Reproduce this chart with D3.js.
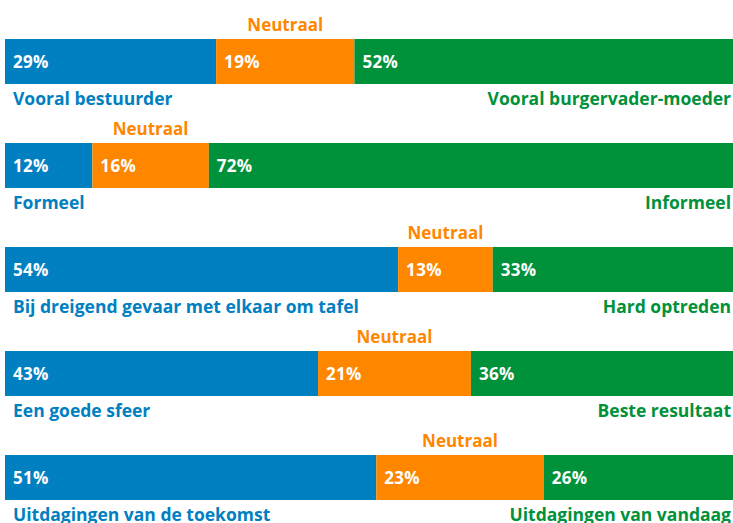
<!DOCTYPE html>
<html>
<head>
<meta charset="utf-8">
<script src="https://cdn.jsdelivr.net/npm/d3@7"></script>
<style>
  body { margin: 0; background: #fff; }
  text { font-family: "Open Sans", sans-serif; font-weight: bold; }
</style>
</head>
<body>
<div id="chart"></div>
<script>
// data per bar: left answer, neutral, right answer (percent)
const leftLabels = ["Vooral bestuurder", "Formeel", "Bij dreigend gevaar met elkaar om tafel", "Een goede sfeer", "Uitdagingen van de toekomst"];
const rightLabels = ["Vooral burgervader-moeder", "Informeel", "Hard optreden", "Beste resultaat", "Uitdagingen van vandaag"];
const leftValues = [29, 12, 54, 43, 51];
const neutralValues = [19, 16, 13, 21, 23];
const rightValues = [52, 72, 33, 36, 26];

const width = 733;
const height = 523;
const colors = ["#0080c1", "#ff8700", "#00913b"];

const svg = d3.select("#chart")
    .append("svg")
    .attr("width", width)
    .attr("height", height);

// horizontal scale: 0-100 percent over the bar width
const x = d3.scaleLinear().domain([0, 100]).range([5, 733]);

// top of each bar
const y = d3.scalePoint()
    .domain(d3.range(leftLabels.length))
    .range([39, 455]);

const barH = 45;

leftLabels.forEach((label, i) => {
    const vals = [leftValues[i], neutralValues[i], rightValues[i]];
    let start = 0;
    const top = y(i);
    const g = svg.append("g");

    vals.forEach((v, j) => {
        g.append("rect")
            .attr("x", x(start))
            .attr("y", top)
            .attr("width", x(start + v) - x(start))
            .attr("height", barH)
            .attr("fill", colors[j]);

        g.append("text")
            .attr("x", x(start) + 8)
            .attr("y", top + barH / 2 + 6)
            .attr("fill", "#fff")
            .style("font-size", "17px")
            .style("letter-spacing", "0.3px")
            .text(v + "%");

        if (j === 1) {
            g.append("text")
                .attr("x", (x(start) + x(start + v)) / 2)
                .attr("y", top - 8)
                .attr("text-anchor", "middle")
                .attr("fill", colors[1])
                .style("font-size", "17px")
                .text("Neutraal");
        }
        start += v;
    });

    // answer labels under the bar
    g.append("text")
        .attr("x", 13)
        .attr("y", top + barH + 21)
        .attr("fill", colors[0])
        .style("font-size", "17.5px")
        .text(label);

    g.append("text")
        .attr("x", 731)
        .attr("y", top + barH + 21)
        .attr("text-anchor", "end")
        .attr("fill", colors[2])
        .style("font-size", "17.5px")
        .text(rightLabels[i]);
});
</script>
</body>
</html>
